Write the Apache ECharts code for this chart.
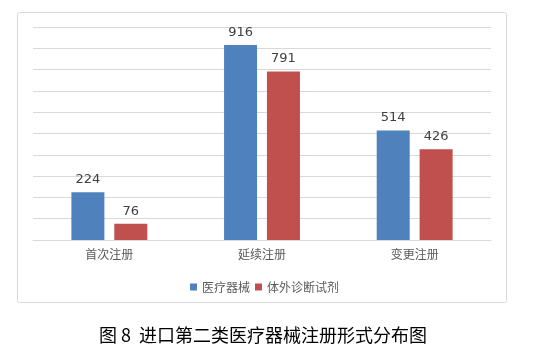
<!DOCTYPE html>
<html><head><meta charset="utf-8">
<script src="https://cdn.jsdelivr.net/npm/echarts@6/dist/echarts.min.js"></script>
<style>html,body{margin:0;padding:0;background:#fff}#c{width:541px;height:359px}</style>
</head><body><div id="c"></div>
<script>
const categories = ['首次注册', '延续注册', '变更注册'];
const deviceValues = [224, 916, 514];
const ivdValues = [76, 791, 426];
const seriesNames = ['医疗器械', '体外诊断试剂'];
const captionText = '图 8  进口第二类医疗器械注册形式分布图';

const chart = echarts.init(document.getElementById('c'));
const labelStyle = {show: true, position: 'top', distance: 6, color: '#404040', fontSize: 13, fontFamily: 'DejaVu Sans'};
chart.setOption({
  animation: false,
  graphic: [
    {type: 'rect', shape: {x: 17.5, y: 12.5, width: 489, height: 290, r: 2}, style: {fill: 'none', stroke: '#d9d9d9', lineWidth: 1}, silent: true},
    {type: 'text', left: 99, top: 326, style: {text: captionText, font: '18px "Noto Sans CJK SC"', fill: '#000'}}
  ],
  grid: {left: 33, right: 50, top: 27, bottom: 119},
  legend: {
    data: seriesNames, left: 185, top: 276, icon: 'rect', itemWidth: 7, itemHeight: 7, itemGap: 5,
    textStyle: {color: '#595959', fontSize: 12, fontFamily: '"Noto Sans CJK SC"'}
  },
  xAxis: {
    type: 'category', data: categories,
    axisLine: {lineStyle: {color: '#d9d9d9'}}, axisTick: {show: false},
    axisLabel: {color: '#595959', fontSize: 12, margin: 8, fontFamily: '"Noto Sans CJK SC"'}
  },
  yAxis: {
    type: 'value', min: 0, max: 1000, interval: 100,
    axisLabel: {show: false}, axisLine: {show: false}, axisTick: {show: false},
    splitLine: {lineStyle: {color: '#d9d9d9'}}
  },
  series: [
    {name: seriesNames[0], type: 'bar', data: deviceValues, barWidth: 33, barGap: '30%', itemStyle: {color: '#4f81bd'}, label: labelStyle},
    {name: seriesNames[1], type: 'bar', data: ivdValues, barWidth: 33, itemStyle: {color: '#c0504d'}, label: labelStyle}
  ]
});
</script></body></html>
